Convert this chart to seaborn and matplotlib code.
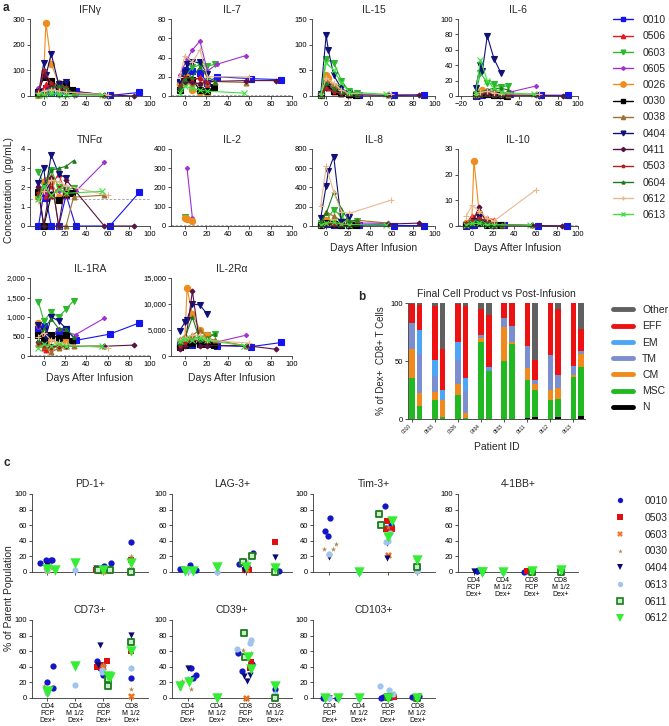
import numpy as np
import pandas as pd
import matplotlib
matplotlib.use('Agg')
import matplotlib.pyplot as plt
from matplotlib.lines import Line2D
from matplotlib.ticker import FuncFormatter
import seaborn as sns

sns.set_style('ticks')
plt.rcParams['font.family'] = ['Liberation Sans', 'DejaVu Sans']
plt.rcParams['axes.linewidth'] = 0.6
plt.rcParams['axes.edgecolor'] = '#333333'

W, H = 669, 726
nan = np.nan

# ---------------- panel a data ----------------
patients = ['0010', '0506', '0603', '0605', '0026', '0030', '0038',
            '0404', '0411', '0503', '0604', '0612', '0613']
p_colors = ['#1414F0', '#E81818', '#2CB82C', '#A030D0', '#F08C1E', '#000000', '#A07030',
            '#10107A', '#5A1040', '#B02020', '#1E7A1E', '#E8B890', '#40E040']
p_markers = ['s', '^', 'v', 'D', 'o', 's', '^', 'v', 'D', '*', '^', '+', 'x']
p_msize = [4, 3.5, 4, 2.2, 4.5, 4, 3.5, 4, 2.5, 3, 2.5, 4, 4]

days = {
    '0010': [-5, 0, 2, 7, 14, 21, 30, 62, 90],
    '0506': [-5, 0, 2, 7, 14, 21],
    '0603': [-5, 0, 7, 14, 21, 28],
    '0605': [-5, 2, 7, 14, 21, 30, 57],
    '0026': [-5, 0, 2, 7, 14, 21],
    '0030': [-5, 0, 7, 14, 21, 27],
    '0038': [-5, 0, 7, 14, 21, 28, 57],
    '0404': [-5, 0, 2, 7, 14, 21],
    '0411': [-5, 0, 7, 14, 21, 57, 85],
    '0503': [-5, 0, 7, 14, 21],
    '0604': [-5, 0, 7, 14, 21, 28],
    '0612': [-5, 0, 7, 14, 21, 60],
    '0613': [-5, 0, 7, 14, 21, 55],
}

ifng = {
    '0010': [10, 20, 30, 12, 10, 20, 18, 2, 14], '0506': [5, 30, 45, 40, 30, 20],
    '0603': [3, 8, 10, 5, 6, 5], '0605': [30, 15, 40, 20, 10, 5, 5],
    '0026': [5, 95, 285, 125, 50, 40], '0030': [15, 75, 60, 35, 45, 25],
    '0038': [5, 10, 30, 55, 30, 10, 5], '0404': [10, 130, 80, 165, 45, 55],
    '0411': [20, 80, 40, 30, 20, 5, 0], '0503': [10, 100, 50, 30, 35],
    '0604': [5, 20, 30, 40, 30, 10], '0612': [10, 20, 25, 20, 15, 5],
    '0613': [3, 5, 10, 8, 5, 2],
}
il7 = {
    '0010': [15, 27, 22, 26, 24, 14, 20, 18, 17], '0506': [10, 20, 18, 15, 20, 10],
    '0603': [5, 20, 30, 32, 31, 33], '0605': [22, 38, 48, 57, 26, 33, 42],
    '0026': [12, 15, 20, 6, 4, 3], '0030': [6, 18, 17, 6, 5, 9],
    '0038': [10, 15, 12, 14, 14, 15, 14], '0404': [15, 25, 33, 35, 35, 23],
    '0411': [8, 15, 15, 12, 15, 16, 16], '0503': [10, 20, 18, 18, 15],
    '0604': [8, 18, 20, 30, 20, 15], '0612': [20, 42, 35, 48, 20, 20],
    '0613': [3, 10, 8, 6, 5, 3],
}
il15 = {
    '0010': [2, 25, 20, 10, 5, 3, 2, 1, 2], '0506': [2, 20, 15, 8, 3, 2],
    '0603': [2, 72, 65, 30, 10, 5], '0605': [3, 20, 15, 10, 5, 3, 3],
    '0026': [2, 40, 35, 20, 5, 3], '0030': [2, 20, 10, 5, 3, 2],
    '0038': [2, 30, 20, 10, 5, 3, 2], '0404': [3, 118, 90, 40, 15, 5],
    '0411': [2, 15, 10, 5, 3, 2, 2], '0503': [2, 15, 8, 5, 3],
    '0604': [2, 25, 15, 8, 3, 2], '0612': [3, 35, 25, 12, 5, 3],
    '0613': [2, 65, 50, 25, 8, 3],
}
il6 = {
    '0010': [0, 1, 1, 2, 1, 1, 2, 1, 1], '0506': [2, 4, 5, 5, 6, 4],
    '0603': [2, 30, 17, 15, 12, 13], '0605': [2, 5, 8, 5, 3, 5, 13],
    '0026': [1, 5, 8, 4, 3, 2], '0030': [1, 2, 2, 1, 1, 0],
    '0038': [1, 3, 4, 3, 2, 1, 3], '0404': [10, 40, 33, 78, 48, 30],
    '0411': [1, 2, 3, 2, 1, 1, 0], '0503': [2, 3, 5, 4, 3],
    '0604': [2, 5, 8, 10, 10, 8], '0612': [3, 5, 6, 4, 3, 2],
    '0613': [2, 47, 20, 10, 5, 2],
}
tnfa = {
    '0010': [0, 1.7, 1.45, 0, 0, 1.6, 0, 0, 1.75], '0506': [1.6, 1.8, 1.55, 2.1, 2.7, 1.6],
    '0603': [2.8, 2.2, 2.9, 2.0, 1.9, 1.95], '0605': [2.1, 1.7, 1.7, 1.8, 1.8, 1.8, 3.3],
    '0026': [1.5, 2.3, 2.4, 2.3, 1.5, 1.7], '0030': [1.75, 0, 1.6, 1.35, 1.65, 1.7],
    '0038': [1.6, 2.2, 2.6, 0, 0, 1.5, 1.6], '0404': [2.25, 3.0, 2.0, 3.7, 2.7, 2.5],
    '0411': [2.0, 0, 2.5, 0, 2.4, 0, 0], '0503': [1.7, 1.8, 1.5, 2.0, 1.6],
    '0604': [1.5, 2.0, 2.9, 3.0, 3.1, 3.4], '0612': [1.3, 1.8, 2.4, 2.3, 2.1, 1.6],
    '0613': [1.4, 2.1, 1.6, 1.9, 1.7, 1.8],
}
il2 = {
    '0603': [nan, 45, nan, nan, nan, nan],
    '0605': [nan, 300, 40, nan, nan, nan, nan],
    '0026': [nan, 40, 35, 25, nan, nan],
}
il8 = {
    '0010': [10, 20, 20, 15, 10, 10, 10, 5, 5], '0506': [20, 40, 30, 25, 20, 15],
    '0603': [30, 60, 170, 100, 30, 50], '0605': [20, 30, 25, 15, 10, 30, 30],
    '0026': [20, 60, 40, 30, 20, 15], '0030': [10, 30, 20, 15, 10, 10],
    '0038': [30, 150, 100, 60, 40, 60, 30], '0404': [80, 420, 570, 720, 40, 90],
    '0411': [10, 20, 15, 10, 10, 20, 30], '0503': [20, 30, 25, 20, 15],
    '0604': [40, 130, 350, 180, 50, 60], '0612': [210, 620, 350, 150, 130, 270],
    '0613': [10, 30, 40, 20, 15, 10],
}
il10 = {
    '0010': [0, 0.5, 0.5, 1, 0.8, 0.3, 0.5, 0, 0], '0506': [1, 4, 3.5, 2, 3, 2.5],
    '0603': [0.5, 1, 1.5, 1, 0.5, 0.5], '0605': [0.5, 1, 1, 0.5, 0.5, 0.3, 0.2],
    '0026': [1, 2, 25.5, 5, 2, 1], '0030': [0.5, 1, 1, 0.5, 0.3, 0.2],
    '0038': [0.5, 1, 2, 1, 0.5, 0.5, 0.3], '0404': [0.5, 1, 2, 3.5, 1, 0.5],
    '0411': [0.5, 1, 7.5, 1, 0.5, 0.2, 0], '0503': [1, 2, 3, 2, 1],
    '0604': [0.5, 1, 2, 1, 0.5, 0.5], '0612': [4, 8, 6, 3, 2, 14],
    '0613': [0.5, 1, 1, 0.5, 0.5, 0.3],
}
il1ra = {
    '0010': [700, 780, 500, 450, 650, 700, 400, 560, 850], '0506': [300, 200, 150, 250, 280, 250],
    '0603': [1380, 900, 1130, 1000, 1200, 1420], '0605': [750, 600, 500, 700, 600, 550, 970],
    '0026': [850, 550, 350, 450, 250, 400], '0030': [550, 400, 550, 450, 550, 380],
    '0038': [300, 250, 100, 200, 250, 250, 250], '0404': [800, 650, 500, 1000, 900, 700],
    '0411': [350, 300, 250, 250, 250, 250, 280], '0503': [350, 250, 200, 250, 250],
    '0604': [400, 700, 950, 700, 700, 500], '0612': [500, 600, 400, 350, 300, 200],
    '0613': [200, 300, 250, 300, 250, 250],
}
il2ra = {
    '0010': [2200, 2800, 2500, 2200, 2500, 2500, 2000, 1800, 2600], '0506': [2500, 3000, 3200, 3000, 3000, 2500],
    '0603': [2500, 3000, 3500, 3500, 4000, 4200], '0605': [2500, 3000, 2800, 3000, 2800, 2700, 4000],
    '0026': [2000, 3500, 13000, 8000, 5000, 4000], '0030': [1800, 2200, 2500, 2400, 2300, 2200],
    '0038': [3300, 3200, 4000, 5000, 3500, 3000, 2000], '0404': [4800, 6500, 7000, 10000, 9800, 8000],
    '0411': [1300, 2000, 12500, 2000, 2000, 2000, 1300], '0503': [2000, 2500, 3000, 3000, 2800],
    '0604': [2500, 3500, 7500, 3000, 3500, 4200], '0612': [3000, 3500, 4000, 4000, 3000, 2500],
    '0613': [2800, 3200, 3000, 3500, 3000, 2000],
}

a_titles = ['IFNγ', 'IL-7', 'IL-15', 'IL-6', 'TNFα', 'IL-2', 'IL-8', 'IL-10', 'IL-1RA', 'IL-2Rα']
a_data = [ifng, il7, il15, il6, tnfa, il2, il8, il10, il1ra, il2ra]
a_ymax = [300, 80, 150, 100, 4, 400, 800, 30, 2000, 15000]
a_ystep = [100, 20, 50, 20, 1, 100, 200, 10, 500, 5000]
a_lod = [None, 0.8, None, None, 1.4, 3, None, 0.4, 30, None]

# ---------------- panel b data ----------------
b_ids = ['0010', '0603', '0026', '0404', '0503', '0611', '0612', '0613']
b_cats = ['N', 'MSC', 'CM', 'TM', 'EM', 'EFF', 'Other']
b_N = [0, 0, 0, 0, 0, 0, 0, 0, 0, 0, 1, 2, 0, 2, 0, 3]
b_MSC = [35, 11, 16, 2, 21, 1, 66, 41, 50, 65, 33, 23, 16, 15, 36, 42]
b_CM = [25, 11, 7, 14, 9, 4, 4, 0, 29, 1, 10, 5, 9, 10, 2, 11]
b_TM = [23, 34, 14, 0, 21, 19, 2, 2, 8, 14, 19, 4, 30, 11, 7, 3]
b_EM = [0, 21, 14, 9, 15, 11, 0, 2, 0, 0, 0, 0, 0, 0, 1, 0]
b_EFF = [16, 21, 46, 35, 33, 62, 23, 45, 13, 20, 37, 17, 45, 57, 54, 19]
b_Other = [1, 2, 3, 40, 1, 3, 5, 10, 0, 0, 0, 49, 0, 5, 0, 22]
b_colors = ['#000000', '#22B822', '#F08A1C', '#7A8ED0', '#4DA6F5', '#EE1111', '#606060']

# ---------------- panel c data ----------------
c_cats = ['CD4\nFCP\nDex+', 'CD4\nM 1/2\nDex+', 'CD8\nFCP\nDex+', 'CD8\nM 1/2\nDex+']
c_patients = ['0010', '0503', '0603', '0030', '0404', '0613', '0611', '0612']
c_colors = ['#1414C8', '#E01010', '#F07020', '#B08850', '#0A0A70', '#A0C4F0', '#C8F0C8', '#33EE33']
c_markers = ['o', 's', 'X', '*', 'v', 'o', 's', 'v']
c_sizes = [4.5, 4.5, 5, 4, 4.5, 4.5, 5, 7.5]

pd1 = {
    '0010': [[12, 15, 16, 16], [], [12, 8, 6], [38]], '0503': [[], [], [2, 1], [16]],
    '0603': [[3], [], [1, 3], [3]], '0030': [[5, 4], [], [2], [20]],
    '0404': [[9], [], [5, 3], [11]], '0613': [[2], [2], [4], [3]],
    '0611': [[], [], [2, 3], [0]], '0612': [[4, 3], [11], [3], [12]],
}
lag3 = {
    '0010': [[4, 9, 3, 4], [], [8, 24, 10], [0, 1]], '0503': [[], [], [2, 2], [39]],
    '0603': [[], [], [4], [0]], '0030': [[], [], [16, 14], [1]],
    '0404': [[2], [], [3, 5], [19]], '0613': [[1], [0], [12], []],
    '0611': [[], [], [13, 20], [0]], '0612': [[1, 1], [7], [7], [5]],
}
tim3 = {
    '0010': [[69, 53, 46], [], [85, 60, 57], [5]], '0503': [[], [], [65, 55, 55], [3]],
    '0603': [[], [], [22], [2]], '0030': [[36, 29, 30], [], [58], [1]],
    '0404': [[19], [], [37, 18], [4]], '0613': [[23], [0], [50, 40, 39], [1]],
    '0611': [[], [], [75, 60], [7]], '0612': [[], [0], [65, 45], [16]],
}
bb41 = {
    '0010': [[1, 1, 1], [], [0, 1], [0]], '0503': [[], [], [0, 1], [0]],
    '0603': [[], [], [0], [1]], '0030': [[], [], [1], [0]],
    '0404': [[1], [], [1], [1]], '0613': [[], [0], [4], [1]],
    '0611': [[], [], [0], [0]], '0612': [[0, 0], [0], [1], [3]],
}
cd73 = {
    '0010': [[41, 20, 13], [], [48, 38, 30], [26]], '0503': [[], [], [47, 42, 40], [60]],
    '0603': [[], [], [40], [3]], '0030': [[13, 16], [], [43], [11]],
    '0404': [[5], [], [68, 42], [81]], '0613': [[6], [17], [36, 33], [38]],
    '0611': [[], [], [25, 16], [72]], '0612': [[9, 8], [41], [28, 27], [60]],
}
cd39 = {
    '0010': [[39, 26, 29], [], [58, 44, 35], [12]], '0503': [[], [], [53, 46, 39], [0]],
    '0603': [[], [], [0], [2]], '0030': [[22, 12, 13], [], [62, 58], [6]],
    '0404': [[38], [], [28, 22, 30], [0]], '0613': [[24], [2], [75, 70, 63], [5]],
    '0611': [[], [], [83, 53], [0]], '0612': [[15, 20], [0], [53, 37], [15]],
}
cd103 = {
    '0010': [[0, 0, 1], [], [1, 0, 1], [2, 1]], '0503': [[], [], [2, 1], [1]],
    '0603': [[], [], [1], [0]], '0030': [[], [], [1], []],
    '0404': [[0], [], [0], [1]], '0613': [[0], [0], [15, 10, 5], []],
    '0611': [[], [], [1], [0]], '0612': [[0, 0], [0], [0], [0]],
}
c_titles = ['PD-1+', 'LAG-3+', 'Tim-3+', '4-1BB+', 'CD73+', 'CD39+', 'CD103+']
c_data = [pd1, lag3, tim3, bb41, cd73, cd39, cd103]


def box(x0, y0, x1, y1):
    return [x0 / W, 1 - y1 / H, (x1 - x0) / W, (y1 - y0) / H]


def style_ax(ax):
    sns.despine(ax=ax)
    ax.tick_params(length=2, width=0.6, labelsize=5.5, pad=1.5, colors='#333333')
    ax.tick_params(labelcolor='black')


fig = plt.figure(figsize=(W / 100, H / 100), dpi=100)

# ---------------- panel a ----------------
a_cols = [(30, 150), (171, 292), (312, 435), (458, 578)]
a_rows = [(19, 96), (149, 226), (278, 356)]
for k, title in enumerate(a_titles):
    r, c = divmod(k, 4)
    ax = fig.add_axes(box(a_cols[c][0], a_rows[r][0], a_cols[c][1], a_rows[r][1]))
    data = a_data[k]
    if a_lod[k] is not None:
        ax.axhline(a_lod[k], color='#999999', lw=0.6, ls=(0, (3, 2)), zorder=0)
    for i, p in enumerate(patients):
        if p not in data:
            continue
        df = pd.DataFrame({'day': days[p], 'val': data[p]}).dropna()
        sns.lineplot(data=df, x='day', y='val', ax=ax, color=p_colors[i],
                     marker=p_markers[i], markersize=p_msize[i], markeredgecolor=p_colors[i],
                     markeredgewidth=0.8, linewidth=0.8, errorbar=None, sort=False,
                     clip_on=False)
    ax.set_ylim(0, a_ymax[k])
    ax.set_yticks(np.arange(0, a_ymax[k] + 1e-9, a_ystep[k]))
    if title == 'IL-6':
        ax.set_xlim(-23, 100)
        ax.set_xticks(range(-20, 101, 20))
    else:
        ax.set_xlim(-13, 100)
        ax.set_xticks(range(0, 101, 20))
    if a_ymax[k] >= 1000:
        ax.yaxis.set_major_formatter(FuncFormatter(lambda v, _: f'{v:,.0f}'))
    ax.set_title(title, fontsize=7.5, pad=4)
    ax.set_ylabel('')
    ax.set_xlabel('Days After Infusion' if k in (6, 7, 8, 9) else '', fontsize=7.5, labelpad=4)
    style_ax(ax)

fig.text(9 / W, 1 - 190 / H, 'Concentration  (pg/mL)', rotation=90, va='center', ha='center',
         fontsize=7.5)
a_handles = [Line2D([], [], color=p_colors[i], marker=p_markers[i], markersize=p_msize[i] * 0.85,
                    lw=1, markeredgecolor=p_colors[i]) for i in range(len(patients))]
fig.legend(a_handles, patients, loc='upper left', bbox_to_anchor=(613 / W, 1 - 15 / H),
           frameon=False, fontsize=7.5, labelspacing=0.6, handlelength=1.9, handletextpad=0.9,
           borderpad=0, borderaxespad=0)

# ---------------- panel b ----------------
axb = fig.add_axes(box(408, 303, 585, 419))
b_vals = [b_N, b_MSC, b_CM, b_TM, b_EM, b_EFF, b_Other]
xpos = [3 * g + j for g in range(len(b_ids)) for j in range(2)]
bottom = np.zeros(len(xpos))
for vals, col in zip(b_vals, b_colors):
    axb.bar(xpos, vals, bottom=bottom, width=0.72, color=col, linewidth=0)
    bottom += np.array(vals)
axb.set_xlim(-0.5, 22.5)
axb.set_ylim(0, 100)
axb.set_yticks([0, 50, 100])
axb.set_xticks([3 * g for g in range(len(b_ids))])
axb.set_xticklabels(b_ids, rotation=45, ha='right', fontsize=3.5)
axb.set_title('Final Cell Product vs Post-Infusion', fontsize=7.5, pad=4)
axb.set_xlabel('Patient ID', fontsize=7.5, labelpad=5)
axb.set_ylabel('% of Dex+  CD8+ T Cells', fontsize=7, labelpad=3)
style_ax(axb)
axb.tick_params(axis='x', labelsize=3.5)
b_handles = [Line2D([], [], color=b_colors[i], lw=3.5) for i in range(len(b_cats))][::-1]
fig.legend(b_handles, b_cats[::-1], loc='upper left', bbox_to_anchor=(613 / W, 1 - 305 / H),
           frameon=False, fontsize=7.5, labelspacing=0.6, handlelength=1.9, handletextpad=0.9,
           borderpad=0, borderaxespad=0)

# ---------------- panel c ----------------
np.random.seed(7)
c_cols = [(32, 148), (172, 292), (313, 435), (458, 578)]
c_rows = [(494, 572), (620, 698)]
for k, title in enumerate(c_titles):
    r, c = divmod(k, 4)
    ax = fig.add_axes(box(c_cols[c][0], c_rows[r][0], c_cols[c][1], c_rows[r][1]))
    data = c_data[k]
    for i, p in enumerate(c_patients):
        cats, vals = [], []
        for ci, lst in enumerate(data[p]):
            cats += [c_cats[ci]] * len(lst)
            vals += lst
        if not vals:
            continue
        ec = '#1E7A1E' if p == '0611' else c_colors[i]
        lw = 1.3 if p == '0611' else 0
        sns.stripplot(x=cats, y=vals, order=c_cats, ax=ax, color=c_colors[i], marker=c_markers[i],
                      size=c_sizes[i], jitter=0.3, edgecolor=ec, linewidth=lw, clip_on=False,
                      zorder=3)
    ax.set_xlim(-0.55, 3.6)
    ax.set_ylim(0, 100)
    ax.set_yticks(range(0, 101, 20))
    ax.set_xticks(range(4))
    if k >= 3:
        ax.set_xticklabels(c_cats, fontsize=5, linespacing=1.0)
    else:
        ax.set_xticklabels([])
    ax.set_title(title, fontsize=7.5, pad=5)
    ax.set_xlabel('')
    ax.set_ylabel('')
    style_ax(ax)
    ax.tick_params(axis='x', labelsize=5)

fig.text(9 / W, 1 - 598 / H, '% of Parent Population', rotation=90, va='center', ha='center',
         fontsize=7.5)
c_handles = [Line2D([], [], color=c_colors[i], marker=c_markers[i], markersize=c_sizes[i] * 0.85,
                    lw=0, markeredgecolor='#1E7A1E' if c_patients[i] == '0611' else c_colors[i],
                    markeredgewidth=1.2 if c_patients[i] == '0611' else 0)
             for i in range(len(c_patients))]
fig.legend(c_handles, c_patients, loc='upper left', bbox_to_anchor=(612 / W, 1 - 496 / H),
           frameon=False, fontsize=7.5, labelspacing=0.65, handlelength=1.5, handletextpad=1.6,
           borderpad=0, borderaxespad=0)

# panel letters
fig.text(3 / W, 1 - 8 / H, 'a', fontsize=8.5, fontweight='bold', va='center')
fig.text(358 / W, 1 - 297 / H, 'b', fontsize=8.5, fontweight='bold', va='center')
fig.text(3 / W, 1 - 463 / H, 'c', fontsize=8.5, fontweight='bold', va='center')

fig.savefig('out.png', dpi=100)
